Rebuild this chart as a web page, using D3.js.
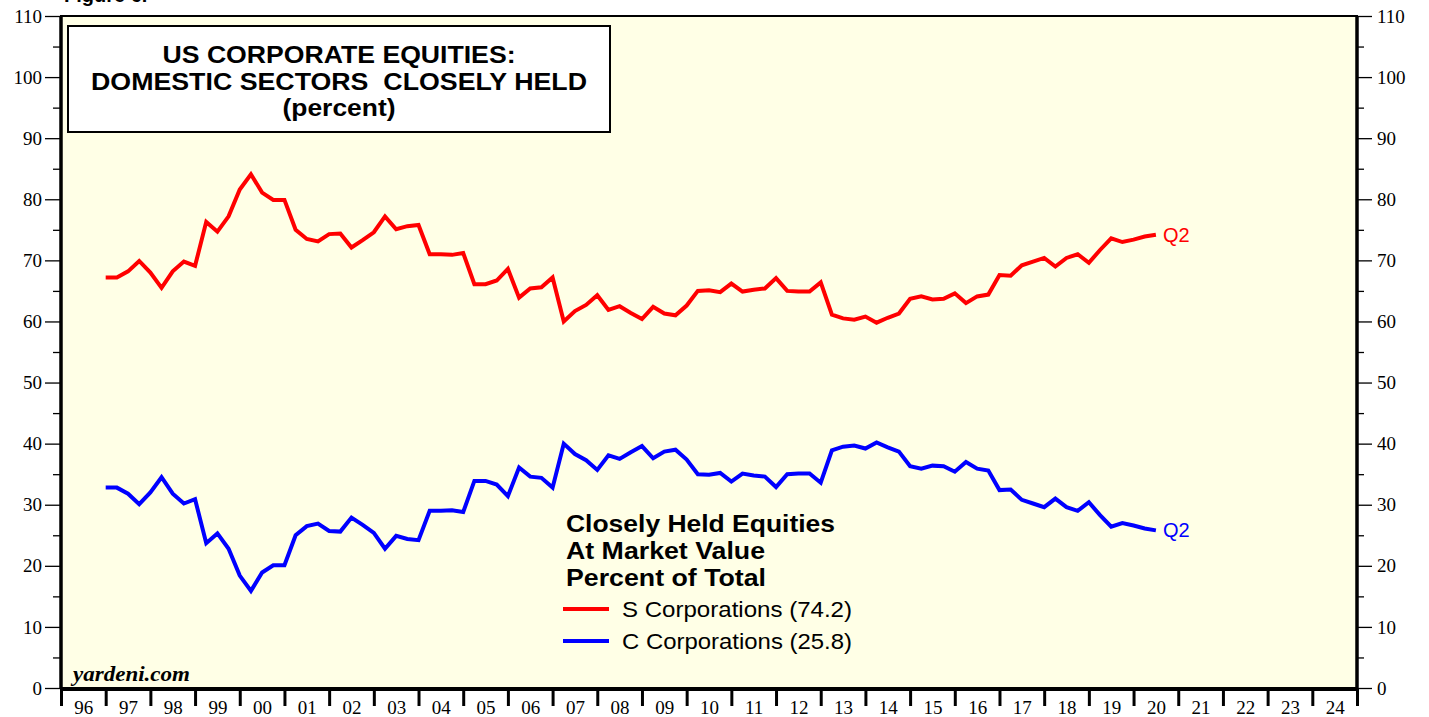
<!DOCTYPE html>
<html>
<head>
  <meta charset="utf-8">
  <title>US Corporate Equities: Domestic Sectors Closely Held</title>
  <script src="https://d3js.org/d3.v7.min.js"></script>
  <style>
    body { margin: 0; background: #fff; }
    svg { display: block; }
    .tick text { font-family: "Liberation Serif", "Times New Roman", serif; font-size: 19px; fill: #000; }
  </style>
</head>
<body>
  <script>
    // quarterly readings, 1996 Q4 .. 2020 Q2 (percent of total, at market value)
    var firstQuarterEnd = 1997.0;
    var sCorps = [
      67.2, 67.2, 68.2, 69.9, 68.0, 65.5, 68.2, 69.8, 69.1, 76.3,
      74.7, 77.2, 81.6, 84.1, 81.1, 79.9, 79.9, 75.0, 73.5, 73.1,
      74.3, 74.4, 72.1, 73.3, 74.6, 77.2, 75.1, 75.6, 75.8, 71.0,
      71.0, 70.9, 71.2, 66.1, 66.1, 66.7, 68.6, 63.9, 65.4, 65.6,
      67.2, 60.0, 61.7, 62.7, 64.3, 61.9, 62.5, 61.4, 60.4, 62.4,
      61.3, 61.0, 62.6, 65.0, 65.1, 64.8, 66.2, 64.9, 65.2, 65.4,
      67.1, 65.0, 64.9, 64.9, 66.4, 61.1, 60.5, 60.3, 60.8, 59.8,
      60.6, 61.3, 63.7, 64.1, 63.6, 63.7, 64.6, 63.0, 64.1, 64.4,
      67.6, 67.5, 69.2, 69.8, 70.4, 69.0, 70.4, 71.0, 69.6, 71.7,
      73.6, 73.0, 73.4, 73.9, 74.2
    ];
    var cCorps = [
      32.8, 32.8, 31.8, 30.1, 32.0, 34.5, 31.8, 30.2, 30.9, 23.7,
      25.3, 22.8, 18.4, 15.9, 18.9, 20.1, 20.1, 25.0, 26.5, 26.9,
      25.7, 25.6, 27.9, 26.7, 25.4, 22.8, 24.9, 24.4, 24.2, 29.0,
      29.0, 29.1, 28.8, 33.9, 33.9, 33.3, 31.4, 36.1, 34.6, 34.4,
      32.8, 40.0, 38.3, 37.3, 35.7, 38.1, 37.5, 38.6, 39.6, 37.6,
      38.7, 39.0, 37.4, 35.0, 34.9, 35.2, 33.8, 35.1, 34.8, 34.6,
      32.9, 35.0, 35.1, 35.1, 33.6, 38.9, 39.5, 39.7, 39.2, 40.2,
      39.4, 38.7, 36.3, 35.9, 36.4, 36.3, 35.4, 37.0, 35.9, 35.6,
      32.4, 32.5, 30.8, 30.2, 29.6, 31.0, 29.6, 29.0, 30.4, 28.3,
      26.4, 27.0, 26.6, 26.1, 25.8
    ];
    var yearTicks = d3.range(1996, 2026);
    var yMajor = d3.range(0, 111, 10);
    var yMinor = d3.range(5, 110, 10);
    var titleLines = ["US CORPORATE EQUITIES:", "DOMESTIC SECTORS  CLOSELY HELD", "(percent)"];
    var legendTitle = ["Closely Held Equities", "At Market Value", "Percent of Total"];
    var legendItems = [
      { label: "S Corporations (74.2)", color: "#ff0000" },
      { label: "C Corporations (25.8)", color: "#0000ff" }
    ];

    var w = 1429, h = 717;
    var pL = 61, pR = 1357, pT = 16, pB = 688;
    var sans = "Liberation Sans, Arial, sans-serif";

    var svg = d3.select("body").append("svg").attr("width", w).attr("height", h);

    var x = d3.scaleLinear().domain([1996, 2025]).range([pL, pR]);
    var y = d3.scaleLinear().domain([0, 110]).range([pB, pT]);

    // figure caption, mostly cut off by the top edge
    svg.append("text").attr("x", 64).attr("y", 2)
      .attr("font-family", sans).attr("font-weight", "bold")
      .attr("font-size", 20).text("Figure 6.");

    svg.append("rect").attr("x", pL).attr("y", pT)
      .attr("width", pR - pL).attr("height", pB - pT)
      .attr("fill", "#ffffe6");

    // y axes, major and minor ticks, both sides
    var noLabel = function() { return ""; };
    var gl = svg.append("g").attr("transform", "translate(" + pL + ",0)");
    gl.call(d3.axisLeft(y).tickValues(yMajor).tickSize(16).tickPadding(3));
    gl.append("g").call(d3.axisLeft(y).tickValues(yMinor).tickSize(8).tickFormat(noLabel));
    var gr = svg.append("g").attr("transform", "translate(" + pR + ",0)");
    gr.call(d3.axisRight(y).tickValues(yMajor).tickSize(15).tickPadding(5));
    gr.append("g").call(d3.axisRight(y).tickValues(yMinor).tickSize(7).tickFormat(noLabel));

    // x axis: year boundary ticks, labels centred in each year
    var gb = svg.append("g").attr("transform", "translate(0," + pB + ")");
    gb.call(d3.axisBottom(x).tickValues(yearTicks).tickSize(18).tickFormat(noLabel));
    gb.selectAll(".tick line").attr("stroke-width", 3);
    var gbl = svg.append("g").attr("transform", "translate(0," + pB + ")");
    gbl.call(d3.axisBottom(x).tickValues(yearTicks.slice(0, -1).map(function(d) { return d + 0.5; }))
      .tickSize(0).tickPadding(13)
      .tickFormat(function(d) { return d3.format("02d")(Math.floor(d) % 100); }));
    svg.selectAll(".domain").remove();
    svg.selectAll(".tick line").attr("stroke", "#000");
    gl.selectAll(".tick line").attr("stroke-width", 1.3);
    gr.selectAll(".tick line").attr("stroke-width", 1.3);

    // frame
    svg.append("rect").attr("x", pL).attr("y", pT)
      .attr("width", pR - pL).attr("height", pB - pT)
      .attr("fill", "none").attr("stroke", "#000").attr("stroke-width", 2);
    svg.append("line").attr("x1", pL).attr("x2", pL).attr("y1", pT).attr("y2", pB)
      .attr("stroke", "#000").attr("stroke-width", 3.5);
    svg.append("line").attr("x1", pR).attr("x2", pR).attr("y1", pT).attr("y2", pB)
      .attr("stroke", "#000").attr("stroke-width", 3.5);
    svg.append("line").attr("x1", pL - 1).attr("x2", pR + 1).attr("y1", pB + 1).attr("y2", pB + 1)
      .attr("stroke", "#000").attr("stroke-width", 4);

    // series
    var line = d3.line()
      .x(function(d, i) { return x(firstQuarterEnd + i / 4); })
      .y(function(d) { return y(d); });
    [[sCorps, "#ff0000"], [cCorps, "#0000ff"]].forEach(function(s) {
      svg.append("path").datum(s[0]).attr("d", line)
        .attr("fill", "none").attr("stroke", s[1]).attr("stroke-width", 4)
        .attr("stroke-linejoin", "miter");
      var n = s[0].length - 1;
      svg.append("text").attr("x", x(firstQuarterEnd + n / 4) + 7).attr("y", y(s[0][n]))
        .attr("dy", "0.35em").attr("fill", s[1])
        .attr("font-family", sans).attr("font-size", 20)
        .text("Q2");
    });

    // title box
    var titleWidths = [353, 496, 113];
    svg.append("rect").attr("x", 68).attr("y", 26).attr("width", 542).attr("height", 106)
      .attr("fill", "#fff").attr("stroke", "#000").attr("stroke-width", 2);
    svg.selectAll(".title").data(titleLines).enter().append("text")
      .attr("x", 339).attr("y", function(d, i) { return 63 + i * 26.5; })
      .attr("text-anchor", "middle")
      .attr("font-family", sans).attr("font-weight", "bold")
      .attr("font-size", 24).style("white-space", "pre")
      .attr("textLength", function(d, i) { return titleWidths[i]; })
      .attr("lengthAdjust", "spacingAndGlyphs")
      .text(function(d) { return d; });

    // legend
    var ltWidths = [269, 199, 200];
    svg.selectAll(".lt").data(legendTitle).enter().append("text")
      .attr("x", 566).attr("y", function(d, i) { return 532 + i * 27; })
      .attr("font-family", sans).attr("font-weight", "bold")
      .attr("font-size", 24)
      .attr("textLength", function(d, i) { return ltWidths[i]; })
      .attr("lengthAdjust", "spacingAndGlyphs")
      .text(function(d) { return d; });
    legendItems.forEach(function(d, i) {
      var ly = 609 + i * 32;
      svg.append("line").attr("x1", 563).attr("x2", 609).attr("y1", ly).attr("y2", ly)
        .attr("stroke", d.color).attr("stroke-width", 4);
      svg.append("text").attr("x", 622).attr("y", ly + 8)
        .attr("font-family", sans).attr("font-size", 22)
        .attr("textLength", 230).attr("lengthAdjust", "spacingAndGlyphs")
        .text(d.label);
    });

    svg.append("text").attr("x", 73).attr("y", 681)
      .attr("font-family", "Liberation Serif, Times New Roman, serif")
      .attr("font-weight", "bold").attr("font-style", "italic")
      .attr("font-size", 21).attr("textLength", 117).attr("lengthAdjust", "spacingAndGlyphs")
      .text("yardeni.com");
  </script>
</body>
</html>
